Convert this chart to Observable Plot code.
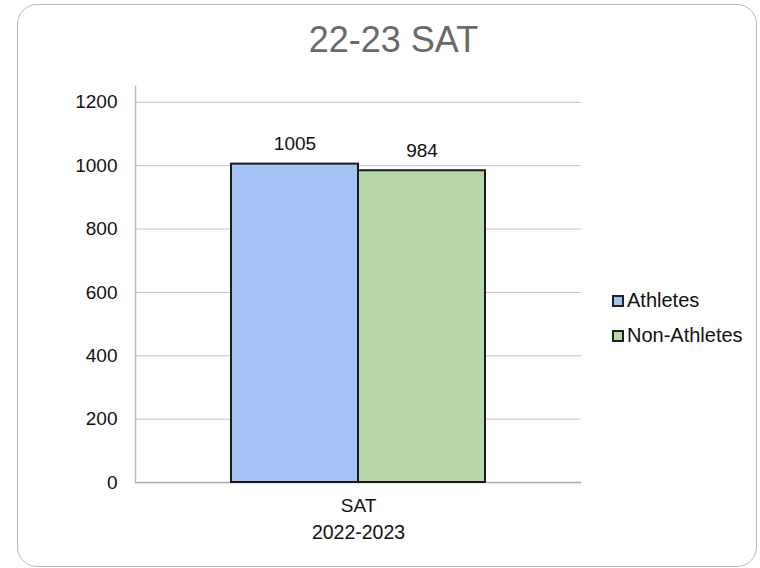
<!DOCTYPE html>
<html>
<head>
<meta charset="utf-8">
<script src="https://cdn.jsdelivr.net/npm/d3@7"></script>
<script src="https://cdn.jsdelivr.net/npm/@observablehq/plot@0.6"></script>
<style>
  html, body { margin: 0; padding: 0; background: #fff; }
  body { width: 760px; height: 568px; position: relative; overflow: hidden; font-family: "Liberation Sans", Arial, sans-serif; }
  #box { position: absolute; left: 17px; top: 4px; width: 738px; height: 561px; border: 1px solid #b8b8b8; border-radius: 20px; }
  #title { position: absolute; left: 30px; width: 727px; top: 22px; text-align: center; font-size: 36px; line-height: 36px; color: #6a6a6a; }
  #chart { position: absolute; left: 0; top: 0; }
  .leg { position: absolute; font-size: 20px; line-height: 20px; color: #111; white-space: nowrap; }
  .sw { position: absolute; width: 12px; height: 12px; box-sizing: border-box; border: 2px solid #222; }
</style>
</head>
<body>
<div id="box"></div>
<div id="title">22-23 SAT</div>
<div id="chart"></div>
<script>
const title = "22-23 SAT";
const group = "SAT";
const groupYear = "2022-2023";
const series = ["Athletes", "Non-Athletes"];
const values = [1005, 984];
const colors = ["#a4c2f4", "#b6d7a8"];
const yTicks = [0, 200, 400, 600, 800, 1000, 1200];

const data = series.map((s, i) => ({group, series: s, value: values[i]}));

const plot = Plot.plot({
  width: 760,
  height: 568,
  marginLeft: 135,
  marginRight: 179,
  marginTop: 86,
  marginBottom: 86,
  style: {fontFamily: "Liberation Sans, Arial, sans-serif", fontSize: "19px", color: "#111", background: "transparent"},
  fx: {domain: [group], padding: 0, label: null},
  x: {domain: series, paddingInner: 0, paddingOuter: 0.749, axis: null},
  y: {domain: [0, 1250], axis: null},
  color: {domain: series, range: colors},
  marks: [
    Plot.ruleY(yTicks.filter(d => d > 0), {stroke: "#c4c4c4", strokeWidth: 1}),
    Plot.ruleY([0], {stroke: "#a8a8a8", strokeWidth: 1.5}),
    Plot.frame({anchor: "left", stroke: "#bdbdbd", strokeWidth: 1.5}),
    Plot.axisY({ticks: yTicks, tickFormat: d => String(d), tickSize: 0, tickPadding: 18, fontSize: 19, label: null, anchor: "left"}),
    Plot.barY(data, {fx: "group", x: "series", y: "value", fill: "series", stroke: "#1a1a1a", strokeWidth: 2}),
    Plot.text(data, {fx: "group", x: "series", y: "value", text: d => String(d.value), lineAnchor: "bottom", dy: -14, fontSize: 19, fill: "#111"}),
    Plot.axisFx({anchor: "bottom", tickSize: 0, tickPadding: 16, fontSize: 19, label: null}),
    Plot.text([groupYear], {frameAnchor: "bottom", dy: 56, fontSize: 19.5, fill: "#111"})
  ]
});
document.getElementById("chart").appendChild(plot);

// legend
const legTop = [290, 325];
series.forEach((s, i) => {
  const sw = document.createElement("div");
  sw.className = "sw";
  sw.style.left = "612px";
  sw.style.top = (legTop[i] + 5) + "px";
  sw.style.background = colors[i];
  document.body.appendChild(sw);
  const t = document.createElement("div");
  t.className = "leg";
  t.style.left = "627px";
  t.style.top = legTop[i] + "px";
  t.textContent = s;
  document.body.appendChild(t);
});
</script>
</body>
</html>
